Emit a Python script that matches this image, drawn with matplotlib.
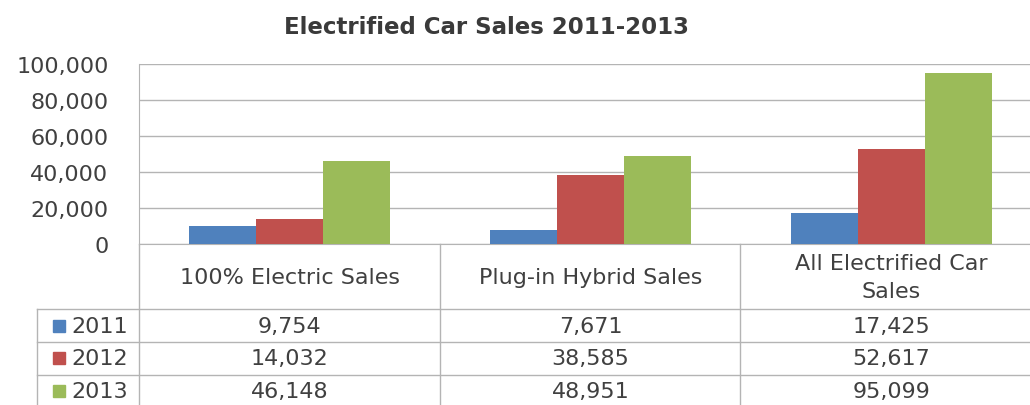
import matplotlib.pyplot as plt
from matplotlib.patches import Rectangle

# data
categories = ['100% Electric Sales', 'Plug-in Hybrid Sales', 'All Electrified Car\nSales']
years = ['2011', '2012', '2013']
sales_2011 = [9754, 7671, 17425]
sales_2012 = [14032, 38585, 52617]
sales_2013 = [46148, 48951, 95099]
yticks = [0, 20000, 40000, 60000, 80000, 100000]

series = [sales_2011, sales_2012, sales_2013]
colors = ['#4F81BD', '#C0504D', '#9BBB59']
txt = '#404040'
line = '#B4B4B4'

plt.rcParams['font.family'] = ['DejaVu Sans']

W, H = 1030, 406
fig = plt.figure(figsize=(W / 100, H / 100), dpi=100)

# plot area in pixels: left 139, right 1042 (clipped), top 65, bottom 245
L, R, T, B = 139, 1042, 65, 245
ax = fig.add_axes([L / W, 1 - B / H, (R - L) / W, (B - T) / H])

def axx(px):
    return (px - L) / (R - L)

def axy(py):
    return (B - py) / (B - T)

x = list(range(len(categories)))
bw = 0.222
for i, (vals, c) in enumerate(zip(series, colors)):
    ax.bar([xi + (i - 1) * bw for xi in x], vals, width=bw, color=c, zorder=3)

ax.set_xlim(-0.5, len(categories) - 0.5)
ax.set_ylim(0, 100000)
ax.set_yticks(yticks)
ax.set_yticklabels([f'{v:,}' for v in yticks])
ax.set_xticks([])
ax.tick_params(axis='y', length=0, pad=22, labelsize=16, labelcolor=txt)
ax.grid(axis='y', color=line, lw=1, zorder=0)
for s in ['top', 'right']:
    ax.spines[s].set_visible(False)
for s in ['left', 'bottom']:
    ax.spines[s].set_color(line)

fig.text(487 / W, 1 - 27 / H, 'Electrified Car Sales 2011-2013', ha='center', va='center',
         fontsize=16.5, fontweight='bold', color='#3A3A3A')

# data table below the axes
def hline(py, x0, x1):
    ax.plot([axx(x0), axx(x1)], [axy(py), axy(py)], transform=ax.transAxes,
            clip_on=False, color=line, lw=1)

def vline(px, y0, y1):
    ax.plot([axx(px), axx(px)], [axy(y0), axy(y1)], transform=ax.transAxes,
            clip_on=False, color=line, lw=1)

vline(L, B, H)
vline(440, B, H)
vline(740, B, H)
vline(37, 310, H)
for py in [310, 343, 376]:
    hline(py, 37, R)

tr = ax.get_xaxis_transform()
for xi, cat in zip(x, categories):
    ax.text(xi, axy(278), cat, transform=tr, ha='center', va='center',
            fontsize=16, color=txt, linespacing=1.5)

row_y = [327, 359, 392]
for yr, vals, c, py in zip(years, series, colors, row_y):
    ax.add_patch(Rectangle((axx(53), axy(py + 6)), 12 / (R - L), 12 / (B - T),
                           transform=ax.transAxes, clip_on=False, color=c))
    ax.text(axx(71), axy(py), yr, transform=ax.transAxes, ha='left', va='center',
            fontsize=16, color=txt)
    for xi, v in zip(x, vals):
        ax.text(xi, axy(py), f'{v:,}', transform=tr, ha='center', va='center',
                fontsize=16, color=txt)

fig.savefig('out.png', dpi=100)
